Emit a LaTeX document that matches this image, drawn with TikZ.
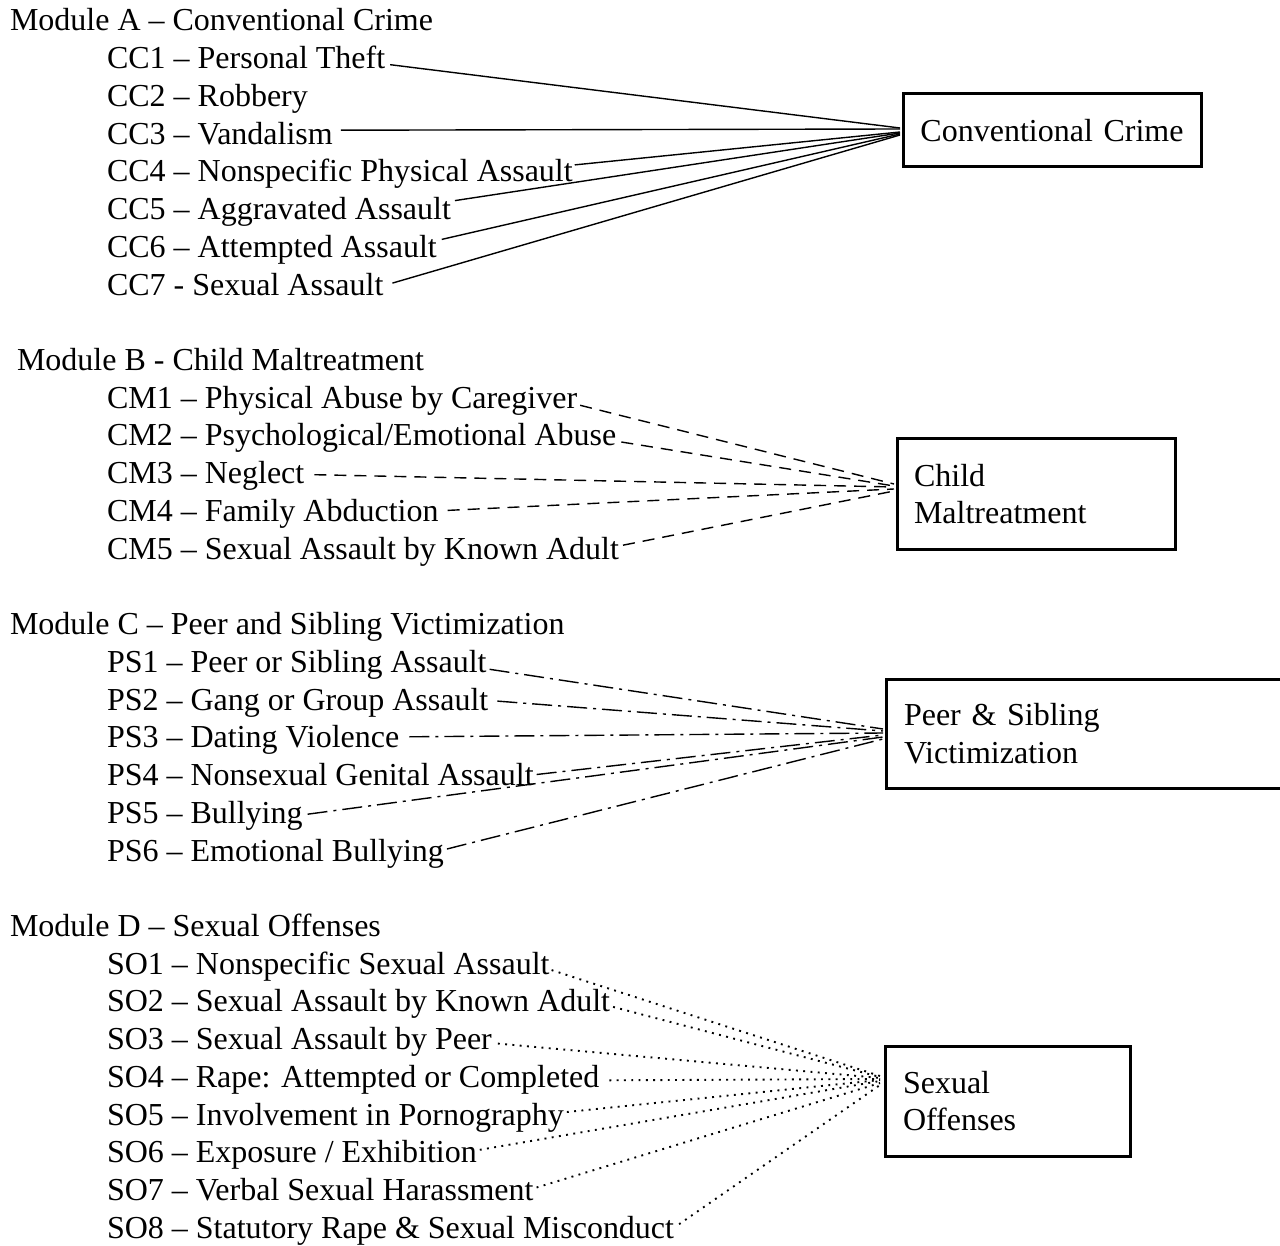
\documentclass[tikz,border=0pt]{standalone}
\usepackage{fontspec}
\setmainfont{Liberation Serif}
\usetikzlibrary{calc}
\tikzset{
  item/.style={anchor=base west, inner sep=0pt, outer sep=0pt},
  catbox/.style={draw, line width=3pt, inner sep=0pt, outer sep=0pt, anchor=north west},
  conn/.style={line width=1.4pt},
  dashconn/.style={conn, dash pattern=on 12pt off 8pt},
  dashdotconn/.style={conn, dash pattern=on 20pt off 6pt on 3pt off 6pt},
  dotconn/.style={line width=1.9pt, dash pattern=on 1.9pt off 5.4pt},
}
\begin{document}
\begin{tikzpicture}[x=1pt,y=-1pt, font=\fontsize{32}{37.6}\selectfont]
\useasboundingbox (0,0) rectangle (1280,1246);
\clip (0,0) rectangle (1280,1246);

% ---------- Module A ----------
\node[item] (ma) at (10,31) {Module A – Conventional Crime};
\node[item] (cc1) at (107,68.7) {CC1 – Personal Theft};
\node[item] (cc2) at (107,106.5) {CC2 – Robbery};
\node[item] (cc3) at (107,144.2) {CC3 – Vandalism};
\node[item] (cc4) at (107,181.9) {CC4 – Nonspecific Physical Assault};
\node[item] (cc5) at (107,219.6) {CC5 – Aggravated Assault};
\node[item] (cc6) at (107,257.4) {CC6 – Attempted Assault};
\node[item] (cc7) at (107,295.1) {CC7 - Sexual Assault};
\node[catbox, minimum width=298pt, minimum height=73pt, text width=298pt, align=center] (ccbox) at (903,94) {Conventional Crime};

\draw[conn] ($(cc1.base east)+(5,-4)$) -- ($(ccbox.west)+(-3,-2.5)$);
\draw[conn] ($(cc3.base east)+(8,-14)$) -- ($(ccbox.west)+(-3,-1.5)$);
\draw[conn] ($(cc4.base east)+(2,-17)$) -- ($(ccbox.west)+(-3,1.5)$);
\draw[conn] ($(cc5.base east)+(4,-19)$) -- ($(ccbox.west)+(-3,2.5)$);
\draw[conn] ($(cc6.base east)+(5,-18)$) -- ($(ccbox.west)+(-3,3.5)$);
\draw[conn] ($(cc7.base east)+(9,-12)$) -- ($(ccbox.west)+(-3,4.5)$);

% ---------- Module B ----------
\node[item] (mb) at (17,370.5) {Module B - Child Maltreatment};
\node[item] (cm1) at (107,408.3) {CM1 – Physical Abuse by Caregiver};
\node[item] (cm2) at (107,446) {CM2 – Psychological/Emotional Abuse};
\node[item] (cm3) at (107,483.7) {CM3 – Neglect};
\node[item] (cm4) at (107,521.4) {CM4 – Family Abduction};
\node[item] (cm5) at (107,559.2) {CM5 – Sexual Assault by Known Adult};
\node[catbox, minimum width=278pt, minimum height=110pt, text width=244pt, align=left] (cmbox) at (897,439) {Child\\Maltreatment};

\draw[dashconn] ($(cm1.base east)+(3,-3)$) -- ($(cmbox.west)+(-3,-10)$);
\draw[dashconn] ($(cm2.base east)+(5,-4)$) -- ($(cmbox.west)+(-3,-8)$);
\draw[dashconn] ($(cm3.base east)+(10,-9)$) -- ($(cmbox.west)+(-3,-7)$);
\draw[dashconn] ($(cm4.base east)+(9,-11)$) -- ($(cmbox.west)+(-3,-5)$);
\draw[dashconn] ($(cm5.base east)+(4,-14)$) -- ($(cmbox.west)+(-3,-3)$);

% ---------- Module C ----------
\node[item] (mc) at (10,634.6) {Module C – Peer and Sibling Victimization};
\node[item] (ps1) at (107,672.3) {PS1 – Peer or Sibling Assault};
\node[item] (ps2) at (107,710.1) {PS2 – Gang or Group Assault};
\node[item] (ps3) at (107,747.8) {PS3 – Dating Violence};
\node[item] (ps4) at (107,785.5) {PS4 – Nonsexual Genital Assault};
\node[item] (ps5) at (107,823.2) {PS5 – Bullying};
\node[item] (ps6) at (107,861) {PS6 – Emotional Bullying};
\node[catbox, minimum width=420pt, minimum height=109pt, text width=384pt, align=left] (psbox) at (886,679) {Peer \& Sibling\\Victimization};

\draw[dashdotconn] ($(ps1.base east)+(3,-3)$) -- ($(psbox.west)+(-3,-4.5)$);
\draw[dashdotconn] ($(ps2.base east)+(9,-9)$) -- ($(psbox.west)+(-3,-2.5)$);
\draw[dashdotconn] ($(ps3.base east)+(10,-11)$) -- ($(psbox.west)+(-3,-0.5)$);
\draw[dashdotconn] ($(ps4.base east)+(3,-11)$) -- ($(psbox.west)+(-3,1.5)$);
\draw[dashdotconn] ($(ps5.base east)+(5,-9)$) -- ($(psbox.west)+(-3,3.5)$);
\draw[dashdotconn] ($(ps6.base east)+(3,-12)$) -- ($(psbox.west)+(-3,5.5)$);

% ---------- Module D ----------
\node[item] (md) at (10,936.4) {Module D – Sexual Offenses};
\node[item] (so1) at (107,974.1) {SO1 – Nonspecific Sexual Assault};
\node[item] (so2) at (107,1011.9) {SO2 – Sexual Assault by Known Adult};
\node[item] (so3) at (107,1049.6) {SO3 – Sexual Assault by Peer};
\node[item] (so4) at (107,1087.3) {SO4 – Rape: Attempted or Completed};
\node[item] (so5) at (107,1125) {SO5 – Involvement in Pornography};
\node[item] (so6) at (107,1162.8) {SO6 – Exposure / Exhibition};
\node[item] (so7) at (107,1200.5) {SO7 – Verbal Sexual Harassment};
\node[item] (so8) at (107,1238.2) {SO8 – Statutory Rape \& Sexual Misconduct};
\node[catbox, minimum width=245pt, minimum height=110pt, text width=209pt, align=left] (sobox) at (885,1046) {Sexual\\Offenses};

\draw[dotconn] ($(so1.base east)+(2,-4)$) -- ($(sobox.west)+(-5,-25)$);
\draw[dotconn] ($(so2.base east)+(3,-5)$) -- ($(sobox.west)+(-5,-24)$);
\draw[dotconn] ($(so3.base east)+(6,-6)$) -- ($(sobox.west)+(-5,-23)$);
\draw[dotconn] ($(so4.base east)+(10,-7)$) -- ($(sobox.west)+(-5,-22)$);
\draw[dotconn] ($(so5.base east)+(3,-13)$) -- ($(sobox.west)+(-5,-21)$);
\draw[dotconn] ($(so6.base east)+(3,-13)$) -- ($(sobox.west)+(-5,-20)$);
\draw[dotconn] ($(so7.base east)+(3,-13)$) -- ($(sobox.west)+(-5,-18)$);
\draw[dotconn] ($(so8.base east)+(5,-14)$) -- ($(sobox.west)+(-5,-16)$);
\end{tikzpicture}
\end{document}
